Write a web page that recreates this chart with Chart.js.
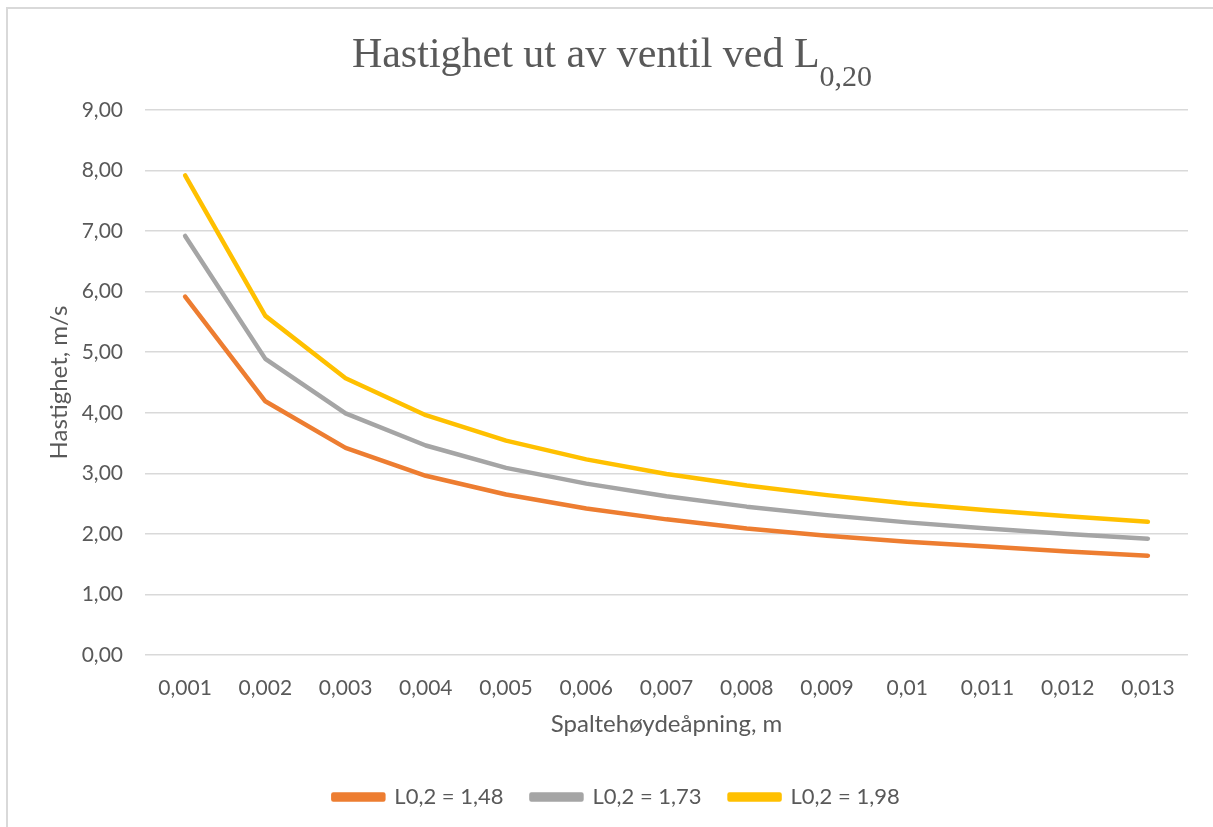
<!DOCTYPE html>
<html>
<head>
<meta charset="utf-8">
<script src="https://cdn.jsdelivr.net/npm/chart.js@4/dist/chart.umd.min.js"></script>
<style>
html,body{margin:0;padding:0;background:#fff;}
#wrap{position:absolute;left:0;top:0;width:1213px;height:827px;}
</style>
</head>
<body>
<div id="wrap"><canvas id="c" width="1213" height="827"></canvas></div>
<script>
const categories = ['0,001','0,002','0,003','0,004','0,005','0,006','0,007','0,008','0,009','0,01','0,011','0,012','0,013'];
const seriesNames = ['L0,2 = 1,48','L0,2 = 1,73','L0,2 = 1,98'];
const v148 = [5.92,4.19,3.42,2.96,2.65,2.42,2.24,2.09,1.97,1.87,1.79,1.71,1.64];
const v173 = [6.92,4.89,3.99,3.46,3.09,2.83,2.62,2.45,2.31,2.19,2.09,2.00,1.92];
const v198 = [7.92,5.60,4.57,3.96,3.54,3.23,2.99,2.80,2.64,2.50,2.39,2.29,2.20];
const yTicks = [0,1,2,3,4,5,6,7,8,9];
const titleMain = 'Hastighet ut av ventil ved L';
const titleSub = '0,20';

const textColor = '#595959';
const gridColor = '#d9d9d9';
const baseFont = "Lato, 'Open Sans', sans-serif";

const framePlugin = {
  id: 'frame',
  beforeDraw(chart) {
    const ctx = chart.ctx;
    ctx.save();
    ctx.fillStyle = '#fff';
    ctx.fillRect(0,0,chart.width,chart.height);
    ctx.fillStyle = '#d9d9d9';
    ctx.fillRect(6,7,2,chart.height);
    ctx.fillRect(6,7,chart.width,2);
    ctx.restore();
  },
  afterDraw(chart) {
    const ctx = chart.ctx;
    ctx.save();
    ctx.fillStyle = textColor;
    ctx.textBaseline = 'alphabetic';
    ctx.textAlign = 'left';
    const mainFont = "42px 'Liberation Serif', 'Times New Roman', serif";
    const subFont = "30px 'Liberation Serif', 'Times New Roman', serif";
    ctx.font = mainFont;
    const w1 = ctx.measureText(titleMain).width;
    ctx.font = subFont;
    const w2 = ctx.measureText(titleSub).width;
    const total = w1 + w2;
    const x0 = 612 - total/2;
    ctx.font = mainFont;
    ctx.fillText(titleMain, x0, 67);
    ctx.font = subFont;
    ctx.fillText(titleSub, x0 + w1, 86);
    ctx.restore();
  }
};

const mk = (label, data, color) => ({
  label, data,
  borderColor: color, backgroundColor: color,
  borderWidth: 4.5, pointRadius: 0, pointHoverRadius: 0,
  tension: 0, fill: false,
  borderCapStyle: 'round', borderJoinStyle: 'round'
});

new Chart(document.getElementById('c'), {
  type: 'line',
  data: {
    labels: categories,
    datasets: [
      mk(seriesNames[0], v148, '#ED7D31'),
      mk(seriesNames[1], v173, '#A5A5A5'),
      mk(seriesNames[2], v198, '#FFC000')
    ]
  },
  options: {
    responsive: false,
    animation: false,
    devicePixelRatio: 1,
    layout: { padding: { top: 110, left: 45, right: 25, bottom: 9 } },
    plugins: {
      title: { display: false },
      tooltip: { enabled: false },
      legend: {
        position: 'bottom',
        labels: {
          color: textColor,
          font: { family: baseFont, size: 22 },
          boxWidth: 50, boxHeight: 5,
          padding: 28
        }
      }
    },
    scales: {
      x: {
        type: 'category',
        offset: true,
        grid: { display: false, drawTicks: false },
        border: { display: false },
        ticks: { color: textColor, font: { family: baseFont, size: 21 }, padding: 21, maxRotation: 0, autoSkip: false },
        title: { display: true, text: 'Spaltehøydeåpning, m', color: textColor, font: { family: baseFont, size: 24 }, padding: { top: 4, bottom: 19 } },
        afterFit(s) { s.height = 103; }
      },
      y: {
        min: 0, max: 9,
        afterBuildTicks(s) { s.ticks = yTicks.map(v => ({ value: v })); },
        grid: { color: gridColor, lineWidth: 1.5, drawTicks: false },
        border: { display: false },
        ticks: {
          color: textColor, font: { family: baseFont, size: 21 }, padding: 22,
          callback: v => v.toFixed(2).replace('.', ',')
        },
        title: { display: true, text: 'Hastighet, m/s', color: textColor, font: { family: baseFont, size: 24 }, padding: 0 },
        afterFit(s) { s.width = 100; }
      }
    }
  },
  plugins: [framePlugin]
});
</script>
</body>
</html>
